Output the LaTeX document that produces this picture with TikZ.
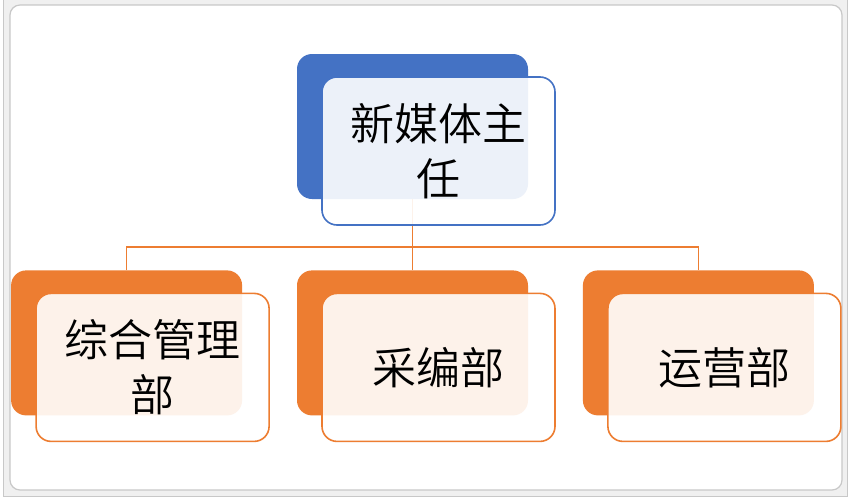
\documentclass[tikz,border=0pt]{standalone}
\usepackage{fontspec}
\newfontfamily\cjk{Noto Sans CJK SC DemiLight}
\usepackage{tikz}
\usetikzlibrary{positioning, calc, backgrounds}
\definecolor{smblue}{HTML}{4472C4}
\definecolor{smorange}{HTML}{ED7D31}
\definecolor{framegray}{HTML}{F0F0F0}
\definecolor{frameline}{HTML}{C8C8C8}
\tikzset{
  backbox/.style={rectangle, rounded corners=15pt, minimum width=231pt, minimum height=145pt, inner sep=0pt},
  frontbox/.style={rectangle, rounded corners=15pt, minimum width=233pt, minimum height=148pt, inner sep=0pt, fill=white, fill opacity=0.9, text opacity=1, line width=1.6pt, align=center, font=\cjk\fontsize{44}{55}\selectfont},
  link/.style={draw=smorange, line width=1.6pt},
}
\begin{document}
\begin{tikzpicture}[x=1pt, y=-1pt, node distance=54.5pt]
\useasboundingbox (0,0) rectangle (857,498);
% back boxes
\node[backbox, fill=smblue] (chief) at (412.5,126.5) {};
\node[backbox, fill=smorange, below=71pt of chief] (edit) {};
\node[backbox, fill=smorange, left=of edit] (admin) {};
\node[backbox, fill=smorange, right=of edit] (ops) {};
\coordinate (bus) at (412.5,247);
% front boxes
\node[frontbox, draw=smblue] (chieflabel) at ([shift={(26pt,-24.5pt)}]chief.center) {新媒体主\\任};
\node[frontbox, draw=smorange] (adminlabel) at ([shift={(26pt,-24.5pt)}]admin.center) {综合管理\\部};
\node[frontbox, draw=smorange] (editlabel) at ([shift={(26pt,-24.5pt)}]edit.center) {采编部};
\node[frontbox, draw=smorange] (opslabel) at ([shift={(26pt,-24.5pt)}]ops.center) {运营部};
\begin{pgfonlayer}{background}
% frame of the embedded object
\fill[framegray, draw=frameline] (3.5,-1) rectangle (847.5,496.5);
\fill[white, draw=frameline, line width=1.2pt, rounded corners=10pt] (10,5) rectangle (842,490);
% connectors
\draw[link] (chief.south) -- (edit.north);
\draw[link] (admin.north) |- (bus) -| (ops.north);
\end{pgfonlayer}
\end{tikzpicture}
\end{document}
